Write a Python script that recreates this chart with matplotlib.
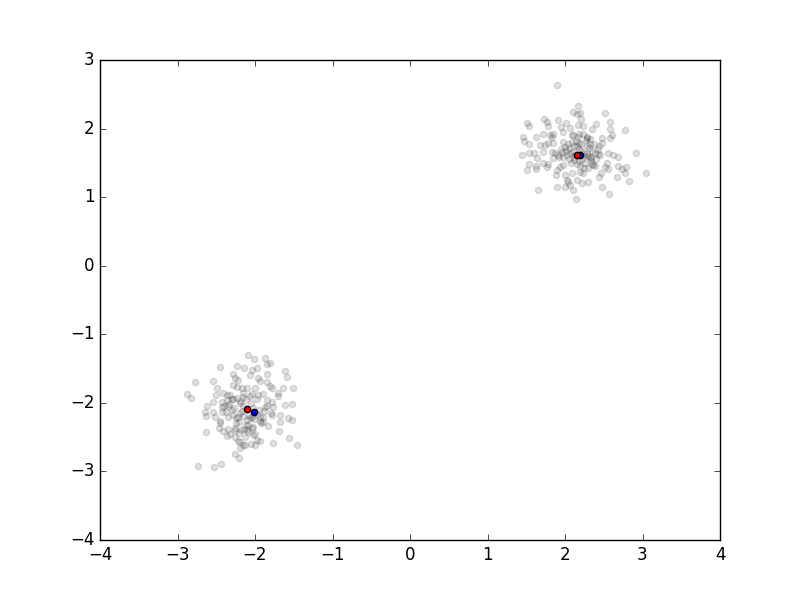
import matplotlib
matplotlib.use("Agg")
import matplotlib.pyplot as plt
import numpy as np

plt.style.use('classic')

# Cluster A (upper right)
xa = [1.897, 2.099, 1.514, 1.532, 1.733, 1.764, 1.910, 2.009, 1.777, 1.945, 2.065,
      1.454, 1.626, 1.712, 1.806, 1.828, 1.849, 1.978, 2.086,
      2.172, 2.194, 2.151, 2.516, 2.206, 2.581, 2.396, 2.236, 2.164, 2.352, 2.581,
      2.774, 2.603, 2.181, 2.280, 2.474, 2.581,
      1.471, 1.539, 1.677, 1.742, 1.785, 1.849, 2.000, 1.441, 1.539, 1.604, 1.720,
      1.828, 1.871, 1.914, 1.978, 1.849, 1.643, 1.539, 1.626, 1.506, 1.626, 1.720,
      1.785, 1.764, 1.935, 1.978, 1.901, 1.884, 2.000, 2.086, 2.022, 2.065, 2.000,
      1.901, 1.655, 2.043, 2.107, 2.142,
      2.181, 2.323, 2.474, 2.551, 2.623, 2.680, 2.422, 2.912, 2.323, 2.345, 2.387,
      2.301, 2.538, 2.516, 2.559, 2.680, 2.732, 2.783, 2.774, 2.194, 2.236, 2.465,
      2.439, 2.667, 3.045, 2.826, 2.301, 2.215, 2.151, 2.474, 2.572,
      2.05, 2.10, 2.12, 2.18, 2.22, 2.25, 2.28, 2.30, 2.35, 2.40, 2.08, 2.15, 2.20,
      2.02, 1.95, 2.38, 2.45, 2.26, 2.14, 2.32, 1.98, 2.42, 2.12, 2.24, 2.05, 2.18,
      2.36, 2.28, 2.10, 1.92,
      2.07, 2.16, 2.21, 2.33, 2.27, 2.13, 2.04, 2.39, 2.19, 2.31, 1.96, 2.23, 2.11,
      2.29, 2.17, 2.01, 2.34, 2.09, 2.44, 2.25]
ya = [2.635, 2.246, 2.077, 2.042, 2.144, 2.100, 2.129, 2.077, 2.042, 2.018, 2.004,
      1.873, 1.873, 1.916, 1.906, 1.881, 1.916, 1.954, 1.906,
      2.329, 2.231, 2.208, 2.231, 2.135, 2.100, 2.066, 2.037, 2.052, 1.994, 1.994,
      1.979, 1.906, 1.916, 1.867, 1.867, 1.867,
      1.823, 1.775, 1.760, 1.760, 1.794, 1.785, 1.735, 1.614, 1.648, 1.648, 1.663,
      1.663, 1.639, 1.614, 1.590, 1.566, 1.566, 1.483, 1.454, 1.396, 1.406, 1.493,
      1.483, 1.444, 1.435, 1.469, 1.396, 1.323, 1.323, 1.356, 1.250, 1.177, 1.152,
      1.152, 1.104, 1.225, 1.104, 0.973,
      1.785, 1.775, 1.785, 1.639, 1.614, 1.590, 1.629, 1.639, 1.590, 1.483, 1.454,
      1.420, 1.493, 1.444, 1.406, 1.454, 1.406, 1.444, 1.356, 1.371, 1.347, 1.347,
      1.289, 1.298, 1.347, 1.240, 1.225, 1.202, 1.250, 1.152, 1.041,
      1.72, 1.66, 1.58, 1.70, 1.55, 1.65, 1.75, 1.60, 1.68, 1.55, 1.50, 1.48, 1.78,
      1.62, 1.70, 1.78, 1.62, 1.50, 1.82, 1.85, 1.80, 1.70, 1.75, 1.60, 1.55, 1.52,
      1.47, 1.88, 1.90, 1.58,
      1.64, 1.74, 1.68, 1.57, 1.83, 1.61, 1.77, 1.64, 1.45, 1.71, 1.66, 1.92, 1.54,
      1.63, 1.87, 1.68, 1.53, 1.80, 1.75, 1.43]

# Cluster B (lower left)
xb = [-2.452, -2.236, -2.142, -2.774, -2.538, -2.280, -2.258, -2.215, -2.486, -2.881,
      -2.830, -2.503, -2.409, -2.365, -2.323, -2.280, -2.236, -2.172, -2.623, -2.538,
      -2.430, -2.365, -2.301, -2.236, -2.430, -2.345, -2.194,
      -2.086, -2.009, -1.871, -1.806, -1.849, -1.613, -1.591, -2.043, -1.978, -2.065,
      -1.957, -1.935, -1.849, -1.849, -2.107, -2.000, -1.806, -1.785, -1.635, -1.514,
      -2.043, -1.957, -1.892, -1.707, -1.699, -1.849, -1.785, -1.613, -1.527, -1.871,
      -1.764,
      -2.645, -2.538, -2.430, -2.632, -2.516, -2.452, -2.280, -2.215, -2.151, -2.461,
      -2.409, -2.345, -2.365, -2.258, -2.203, -2.258, -2.632, -2.194, -2.151, -2.194,
      -2.258, -2.203, -2.732, -2.529, -2.443,
      -2.065, -2.086, -2.107, -2.043, -1.935, -1.892, -1.785, -1.677, -1.677, -1.570,
      -1.527, -1.828, -1.687, -2.022, -1.978, -2.000, -1.935, -1.764, -1.557, -1.454,
      -2.129,
      -2.15, -2.05, -2.20, -2.10, -1.95, -2.25, -2.02, -2.30, -1.90, -2.12, -2.35,
      -1.98, -2.18, -2.08, -1.85, -2.28, -2.00, -2.40, -1.92, -2.15, -2.22, -2.05,
      -2.32, -1.80, -2.45,
      -2.17, -2.03, -2.24, -2.11, -1.97, -2.27, -2.06, -2.21, -1.88, -2.14, -2.37,
      -2.01, -2.19, -2.09, -1.94, -2.26, -2.13, -2.33, -2.04, -2.16]
yb = [-1.482, -1.463, -1.496, -1.700, -1.681, -1.584, -1.633, -1.667, -1.788, -1.875,
      -1.934, -1.886, -1.861, -1.886, -1.886, -1.740, -1.765, -1.779, -2.042, -1.983,
      -1.983, -1.959, -1.944, -1.934, -2.056, -2.042, -2.007,
      -1.302, -1.361, -1.350, -1.423, -1.438, -1.536, -1.619, -1.521, -1.488, -1.594,
      -1.642, -1.681, -1.584, -1.700, -1.788, -1.788, -1.750, -1.788, -1.779, -1.779,
      -1.875, -1.886, -1.875, -1.861, -1.896, -1.959, -1.983, -2.032, -2.021, -2.056,
      -2.056,
      -2.129, -2.129, -2.129, -2.192, -2.211, -2.260, -2.177, -2.202, -2.192, -2.371,
      -2.406, -2.386, -2.484, -2.396, -2.444, -2.503, -2.421, -2.567, -2.615, -2.663,
      -2.746, -2.809, -2.921, -2.940, -2.892,
      -2.225, -2.323, -2.396, -2.371, -2.202, -2.275, -2.177, -2.177, -2.275, -2.225,
      -2.250, -2.338, -2.406, -2.469, -2.542, -2.615, -2.552, -2.590, -2.517, -2.615,
      -2.615,
      -2.05, -2.00, -2.15, -2.25, -2.10, -2.30, -2.35, -2.10, -2.20, -1.95, -2.20,
      -1.95, -2.40, -2.18, -2.05, -1.95, -2.45, -2.05, -2.30, -1.85, -2.55, -2.60,
      -2.45, -2.15, -2.30,
      -2.12, -2.08, -2.22, -2.32, -2.16, -2.07, -1.90, -2.28, -2.12, -2.38, -2.14,
      -2.24, -1.98, -2.42, -2.26, -2.36, -2.50, -2.02, -2.20, -1.92]

# Centers
red_x = [2.159, -2.099]
red_y = [1.619, -2.085]
blue_x = [2.194, -2.009]
blue_y = [1.619, -2.133]

fig = plt.figure(figsize=(8, 6), dpi=100)
ax = fig.add_subplot(111)
ax.scatter(xa + xb, ya + yb, c='k', alpha=0.12, s=20)
ax.scatter(blue_x, blue_y, c='b', s=20)
ax.scatter(red_x, red_y, c='r', s=20)
ax.set_xlim(-4, 4)
ax.set_ylim(-4, 3)
fig.savefig('out.png', dpi=100)
